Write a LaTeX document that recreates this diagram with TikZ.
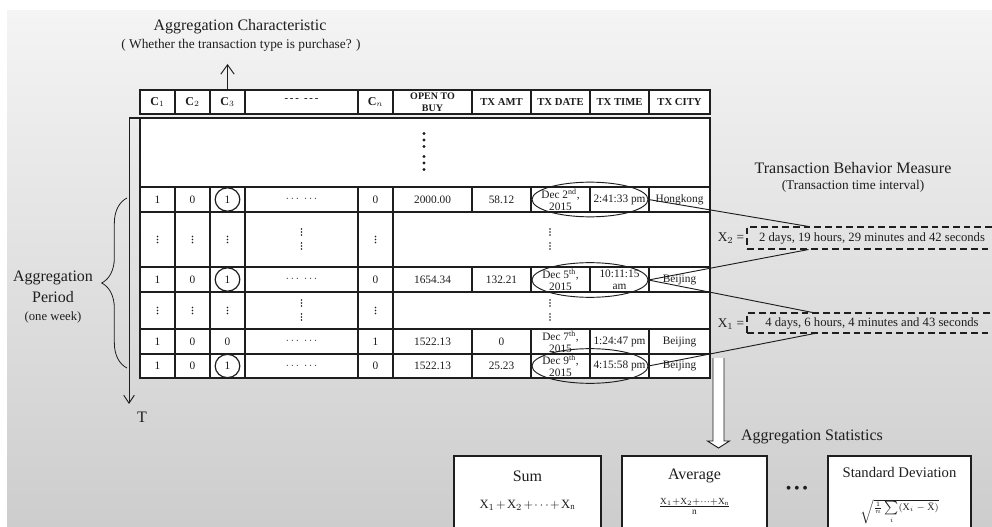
\documentclass[tikz,border=0pt]{standalone}
\usepackage{fontspec}
\setmainfont{Liberation Serif}
\usetikzlibrary{shapes.geometric,arrows.meta,decorations.pathreplacing,calc}
\definecolor{bgtop}{RGB}{244,244,244}
\definecolor{bgbot}{RGB}{205,205,205}
\definecolor{ink}{RGB}{30,30,30}
\newcommand\vdotsat[4]{\foreach \k in {-1,0,1}{\fill[ink] (#1,{#2+\k*#3}) circle[radius=#4];}}
\begin{document}
\begin{tikzpicture}[x=0.75pt,y=-0.75pt,
  tl/.style={draw=ink,line width=0.9pt},
  thinl/.style={draw=ink,line width=0.7pt},
  cell/.style={font=\fontsize{8.5}{9}\selectfont,align=center,inner sep=0pt,text=ink},
  head/.style={font=\bfseries\fontsize{8}{9}\selectfont,align=center,inner sep=0pt,text=ink},
  chead/.style={font=\bfseries\fontsize{9}{10}\selectfont,align=center,inner sep=0pt,text=ink},
  ttl/.style={font=\fontsize{12}{14}\selectfont,inner sep=0pt,text=ink},
  subttl/.style={font=\fontsize{10}{12}\selectfont,inner sep=0pt,text=ink},
  ell/.style={draw=ink,line width=0.7pt,ellipse,inner sep=0pt,minimum width=87pt,minimum height=26pt},
  circ/.style={draw=ink,line width=0.9pt,ellipse,inner sep=0pt,minimum width=18.5pt,minimum height=17.5pt,font=\fontsize{8.5}{9}\selectfont,text=ink},
  dbox/.style={draw=ink,line width=0.8pt,dash pattern=on 5pt off 3pt,inner sep=0pt,font=\fontsize{9.5}{11}\selectfont,text=ink},
  statbox/.style={draw=ink,line width=0.8pt,fill=white,inner sep=0pt}
]
\useasboundingbox (0,0) rectangle (992,527);
\clip (0,0) rectangle (992,527);
\fill[white] (0,0) rectangle (992,527);
\shade[top color=bgtop,bottom color=bgbot] (7,11) rectangle (992,527);

% header row
\draw[tl,fill=white] (140,90) rectangle (710,114);
\foreach \x in {175,210,245,358,393,472,531,590,649} \draw[tl] (\x,90) -- (\x,114);

% body
\draw[tl,fill=white] (140,118) rectangle (710,378);
\foreach \y in {187,212,267,292,329,354} \draw[tl] (140,\y) -- (710,\y);
\foreach \x in {175,210,245,358,393} \draw[tl] (\x,187) -- (\x,378);
\foreach \x in {472,531,590,649} {
  \draw[tl] (\x,187) -- (\x,212);
  \draw[tl] (\x,267) -- (\x,292);
  \draw[tl] (\x,329) -- (\x,378);
}

% time axis
\coordinate (axtop) at (129,118);
\coordinate (axend) at (129,404);
\draw[tl] (140,118) -- (axtop);
\draw[thinl,-{Straight Barb[length=6pt,width=8pt]}] (axtop) -- (axend);
\node[ttl] (T) at (142,417) {T};

% header texts
\node[chead] (hc1) at (157.5,102) {C$_1$};
\node[chead] (hc2) at (192.5,102) {C$_2$};
\node[chead] (hc3) at (227.5,102) {C$_3$};
\node[head] (hdots) at (301.5,100) {{-}\,{-}\,{-}\ \ {-}\,{-}\,{-}};
\node[chead] (hcn) at (375.5,102) {C$_n$};
\node[head,font=\bfseries\fontsize{7.5}{9}\selectfont] (hopen) at (432.5,102) {OPEN TO\\BUY};
\node[head] (hamt) at (501.5,102) {TX AMT};
\node[head] (hdate) at (560.5,102) {TX DATE};
\node[head] (htime) at (619.5,102) {TX TIME};
\node[head] (hcity) at (679.5,102) {TX CITY};

% aggregation characteristic
\node[ttl] (aggchar) at (240,27) {Aggregation Characteristic};
\node[subttl] (aggsub) at (241,45) {( Whether the transaction type is purchase? )};
\coordinate (c3top) at (227.5,90);
\coordinate (c3tip) at (227.5,64);
\draw[thinl,-{Straight Barb[length=7pt,width=10pt]}] (c3top) -- (c3tip);

% vertical dots
\vdotsat{424}{140}{6.5}{1.2pt}
\vdotsat{424}{163}{6.5}{1.2pt}
\foreach \x in {157.5,192.5,227.5,375.5} {
  \vdotsat{\x}{239.5}{3}{0.6pt}
  \vdotsat{\x}{310.5}{3}{0.6pt}
}
\foreach \x in {301.5,550} {
  \vdotsat{\x}{232}{3}{0.7pt}
  \vdotsat{\x}{246}{3}{0.7pt}
  \vdotsat{\x}{303}{3}{0.7pt}
  \vdotsat{\x}{317}{3}{0.7pt}
}

% data row 1
\node[cell] (r1c1) at (157.5,199.5) {1};
\node[cell] (r1c2) at (192.5,199.5) {0};
\node[circ] (r1c3) at (227.5,199.5) {1};
\node[cell] (r1c4) at (301.5,199.5) {$\cdots\;\cdots$};
\node[cell] (r1c5) at (375.5,199.5) {0};
\node[cell] (r1c6) at (432.5,199.5) {2000.00};
\node[cell] (r1c7) at (501.5,199.5) {58.12};
\node[cell] (r1c8) at (560.5,199.5) {Dec 2\textsuperscript{nd},\\2015};
\node[cell] (r1c9) at (619.5,199.5) {2:41:33 pm};
\node[cell] (r1c10) at (679.5,199.5) {Hongkong};
% data row 3
\node[cell] (r3c1) at (157.5,279.5) {1};
\node[cell] (r3c2) at (192.5,279.5) {0};
\node[circ] (r3c3) at (227.5,279.5) {1};
\node[cell] (r3c4) at (301.5,279.5) {$\cdots\;\cdots$};
\node[cell] (r3c5) at (375.5,279.5) {0};
\node[cell] (r3c6) at (432.5,279.5) {1654.34};
\node[cell] (r3c7) at (501.5,279.5) {132.21};
\node[cell] (r3c8) at (560.5,279.5) {Dec 5\textsuperscript{th},\\2015};
\node[cell] (r3c9) at (619.5,279.5) {10:11:15\\am};
\node[cell] (r3c10) at (679.5,279.5) {Beijing};
% data row 5
\node[cell] (r5c1) at (157.5,341.5) {1};
\node[cell] (r5c2) at (192.5,341.5) {0};
\node[cell] (r5c3) at (227.5,341.5) {0};
\node[cell] (r5c4) at (301.5,341.5) {$\cdots\;\cdots$};
\node[cell] (r5c5) at (375.5,341.5) {1};
\node[cell] (r5c6) at (432.5,341.5) {1522.13};
\node[cell] (r5c7) at (501.5,341.5) {0};
\node[cell] (r5c8) at (560.5,341.5) {Dec 7\textsuperscript{th},\\2015};
\node[cell] (r5c9) at (619.5,341.5) {1:24:47 pm};
\node[cell] (r5c10) at (679.5,341.5) {Beijing};
% data row 6
\node[cell] (r6c1) at (157.5,366) {1};
\node[cell] (r6c2) at (192.5,366) {0};
\node[circ] (r6c3) at (227.5,366) {1};
\node[cell] (r6c4) at (301.5,366) {$\cdots\;\cdots$};
\node[cell] (r6c5) at (375.5,366) {0};
\node[cell] (r6c6) at (432.5,366) {1522.13};
\node[cell] (r6c7) at (501.5,366) {25.23};
\node[cell] (r6c8) at (560.5,366) {Dec 9\textsuperscript{th},\\2015};
\node[cell] (r6c9) at (619.5,366) {4:15:58 pm};
\node[cell] (r6c10) at (679.5,366) {Beijing};

% ellipses
\node[ell] (e1) at (590,199.5) {};
\node[ell] (e2) at (590,280) {};
\node[ell] (e3) at (590,366) {};

% aggregation period
\node[ttl] (per1) at (53,278) {Aggregation};
\node[ttl] (per2) at (53,297) {Period};
\node[subttl,font=\fontsize{9.5}{11}\selectfont] (per3) at (53,317) {(one week)};
\draw[thinl,line width=0.6pt,decorate,decoration={brace,amplitude=19pt}] (127,368) -- (127,198);

% behaviour measure
\node[ttl] (tbm) at (853,168) {Transaction Behavior Measure};
\node[subttl] (tbmsub) at (853,186) {(Transaction time interval)};
\node[dbox,minimum width=187.5pt,minimum height=16.5pt] (x2box) at (872,238) {2 days, 19 hours, 29 minutes and 42 seconds};
\node[dbox,minimum width=187.5pt,minimum height=15pt] (x1box) at (872,323) {4 days, 6 hours, 4 minutes and 43 seconds};
\node[subttl] (x2lab) at (731,238) {X$_2$ =};
\node[subttl] (x1lab) at (731,324) {X$_1$ =};
\draw[thinl] (e1.east) -- ($(x2box.north west)+(62,0)$);
\draw[thinl] (e2.east) -- ($(x2box.south west)+(62,0)$);
\draw[thinl] (e2.east) -- ($(x1box.north west)+(66,0)$);
\draw[thinl] (e3.east) -- ($(x1box.south west)+(68,0)$);

% hollow arrow
\coordinate (hat) at (718.5,358);
\coordinate (hab) at (718.5,448);
\draw[thinl,fill=white] ($(hat)+(-5.5,0)$) -- ($(hab)+(-5.5,-7)$) -- ($(hab)+(-11,-7)$) -- (hab) -- ($(hab)+(11,-7)$) -- ($(hab)+(5.5,-7)$) -- ($(hat)+(5.5,0)$);
\node[ttl] (aggstat) at (812,437) {Aggregation Statistics};

% statistic boxes
\node[statbox,minimum width=110.25pt,minimum height=63pt] (sumbox) at (527.5,498) {};
\node[statbox,minimum width=108.75pt,minimum height=63pt] (avgbox) at (694.5,498) {};
\node[statbox,minimum width=107.25pt,minimum height=63pt] (stdbox) at (899.5,498) {};
\node[ttl] (sumt) at (527.5,476) {Sum};
\node[ttl,font=\fontsize{9.5}{11}\selectfont] (sumf) at (527.5,505) {$\medmuskip=2mu\mathrm{X}_1+\mathrm{X}_2+\cdots+\mathrm{X}_\mathrm{n}$};
\node[ttl] (avgt) at (694.5,476) {Average};
\node[ttl,font=\fontsize{10}{12}\selectfont] (avgf) at (694.5,506) {$\frac{\mathrm{X}_1+\mathrm{X}_2+\cdots+\mathrm{X}_\mathrm{n}}{\mathrm{n}}$};
\node[ttl,font=\fontsize{11}{13}\selectfont] (stdt) at (899.5,472) {Standard Deviation};
\node[ttl,font=\fontsize{7.5}{9}\selectfont] (stdf) at (899.5,512) {$\sqrt{\frac{1}{n}\sum\limits_{i}(\mathrm{X}_i-\bar{\mathrm{X}})}$};
\node[ttl] (sdots) at (797,490) {\textbullet\,\textbullet\,\textbullet};
\end{tikzpicture}
\end{document}
